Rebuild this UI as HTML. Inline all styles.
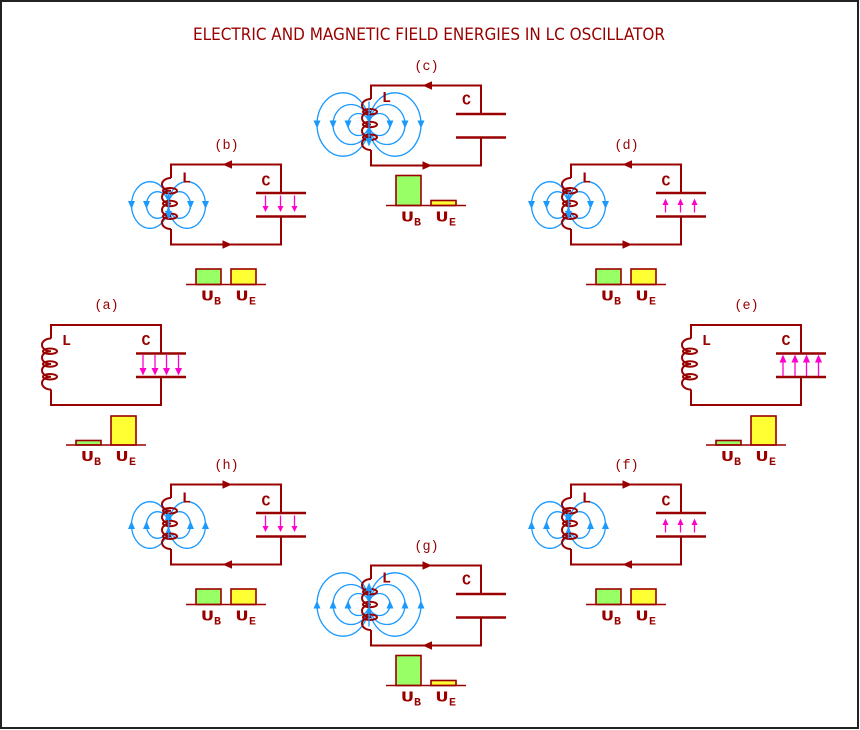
<!DOCTYPE html>
<html>
<head>
<meta charset="utf-8">
<style>
  html,body{margin:0;padding:0;background:#fff;}
  svg{display:block;}
  .lbl{font-family:"Liberation Mono",monospace;font-size:13.5px;fill:#990000;text-anchor:middle;}
  .lc{font-family:"Liberation Mono",monospace;font-weight:bold;font-size:15px;fill:#990000;}
  .u{font-family:"Liberation Mono",monospace;font-weight:bold;font-size:15px;fill:#990000;}
  .s{font-family:"Liberation Mono",monospace;font-weight:bold;font-size:11px;fill:#990000;}
  .title{font-family:"DejaVu Sans","Liberation Sans",sans-serif;font-size:16.5px;fill:#990000;}
</style>
</head>
<body>
<svg width="860" height="730" viewBox="0 0 860 730" xmlns="http://www.w3.org/2000/svg">
<defs>
  <g id="wire" fill="none" stroke="#990000">
    <path d="M0,13.5 V0 H110 V28.5 M110,52 V80 H0 V64.5" stroke-width="2"/>
    <path d="M85,28.5 H135 M85,52 H135" stroke-width="2.5"/>
  </g>
  <g id="coil" fill="none" stroke="#990000" stroke-width="2">
    <path d="M0,13.5 A9,6.375 0 0 0 0,26.25 A9,6.375 0 0 0 0,39 A9,6.375 0 0 0 0,51.75 A9,6.375 0 0 0 0,64.5"/>
    <ellipse cx="-1" cy="26.25" rx="7" ry="2.7"/>
    <ellipse cx="-1" cy="39" rx="7" ry="2.7"/>
    <ellipse cx="-1" cy="51.75" rx="7" ry="2.7"/>
  </g>
  <g id="ellB" fill="none" stroke="#1a99ff" stroke-width="1.3">
    <ellipse cx="-21" cy="40.5" rx="18.5" ry="23.3"/>
    <ellipse cx="-13.5" cy="40.5" rx="11" ry="13.3"/>
    <ellipse cx="16" cy="40.5" rx="18.5" ry="23.3"/>
    <ellipse cx="8.5" cy="40.5" rx="11" ry="13.3"/>
  </g>
  <g id="ellC" fill="none" stroke="#1a99ff" stroke-width="1.3">
    <ellipse cx="-28" cy="39" rx="26" ry="31.7"/>
    <ellipse cx="-20" cy="39" rx="18" ry="20"/>
    <ellipse cx="-12.5" cy="39" rx="10.5" ry="11"/>
    <ellipse cx="24" cy="39" rx="26" ry="31.7"/>
    <ellipse cx="16" cy="39" rx="18" ry="20"/>
    <ellipse cx="8.5" cy="39" rx="10.5" ry="11"/>
  </g>
  <g id="fBdown" fill="#1a99ff">
    <polygon points="-43,36.5 -36,36.5 -39.5,44.5"/>
    <polygon points="-28,36.5 -21,36.5 -24.5,44.5"/>
    <polygon points="16,36.5 23,36.5 19.5,44.5"/>
    <polygon points="31,36.5 38,36.5 34.5,44.5"/>
  </g>
  <g id="fBdownC">
    <line x1="-2.5" y1="27" x2="-2.5" y2="50" stroke="#1a99ff" stroke-width="1.3"/>
    <polygon points="-6,46.5 1,46.5 -2.5,55" fill="#1a99ff"/>
  </g>
  <g id="fBup" fill="#1a99ff">
    <polygon points="-43,44.5 -36,44.5 -39.5,36.5"/>
    <polygon points="-28,44.5 -21,44.5 -24.5,36.5"/>
    <polygon points="16,44.5 23,44.5 19.5,36.5"/>
    <polygon points="31,44.5 38,44.5 34.5,36.5"/>
  </g>
  <g id="fBupC">
    <line x1="-2.5" y1="31" x2="-2.5" y2="54" stroke="#1a99ff" stroke-width="1.3"/>
    <polygon points="-6,35.5 1,35.5 -2.5,27" fill="#1a99ff"/>
  </g>
  <g id="fCdown" fill="#1a99ff">
    <polygon points="-57.5,35 -50.5,35 -54,43"/>
    <polygon points="-41.5,35 -34.5,35 -38,43"/>
    <polygon points="-26.5,35 -19.5,35 -23,43"/>
    <polygon points="15.5,35 22.5,35 19,43"/>
    <polygon points="30.5,35 37.5,35 34,43"/>
    <polygon points="46.5,35 53.5,35 50,43"/>
  </g>
  <g id="fCdownC">
    <line x1="-2" y1="16" x2="-2" y2="56" stroke="#1a99ff" stroke-width="1.3"/>
    <polygon points="-5.5,52.5 1.5,52.5 -2,61" fill="#1a99ff"/>
  </g>
  <g id="fCup" fill="#1a99ff">
    <polygon points="-57.5,43 -50.5,43 -54,35"/>
    <polygon points="-41.5,43 -34.5,43 -38,35"/>
    <polygon points="-26.5,43 -19.5,43 -23,35"/>
    <polygon points="15.5,43 22.5,43 19,35"/>
    <polygon points="30.5,43 37.5,43 34,35"/>
    <polygon points="46.5,43 53.5,43 50,35"/>
  </g>
  <g id="fCupC">
    <line x1="-2" y1="22" x2="-2" y2="61" stroke="#1a99ff" stroke-width="1.3"/>
    <polygon points="-5.5,25.5 1.5,25.5 -2,17" fill="#1a99ff"/>
  </g>
  <g id="eAdown" stroke="#ff00cc" fill="#ff00cc" stroke-width="1.3">
    <line x1="92" y1="30" x2="92" y2="45"/><polygon stroke="none" points="88.5,43 95.5,43 92,50.5"/>
    <line x1="104" y1="30" x2="104" y2="45"/><polygon stroke="none" points="100.5,43 107.5,43 104,50.5"/>
    <line x1="115.5" y1="30" x2="115.5" y2="45"/><polygon stroke="none" points="112,43 119,43 115.5,50.5"/>
    <line x1="127.5" y1="30" x2="127.5" y2="45"/><polygon stroke="none" points="124,43 131,43 127.5,50.5"/>
  </g>
  <g id="eAup" stroke="#ff00cc" fill="#ff00cc" stroke-width="1.3">
    <line x1="92" y1="35" x2="92" y2="51"/><polygon stroke="none" points="88.5,37.5 95.5,37.5 92,29.5"/>
    <line x1="104" y1="35" x2="104" y2="51"/><polygon stroke="none" points="100.5,37.5 107.5,37.5 104,29.5"/>
    <line x1="115.5" y1="35" x2="115.5" y2="51"/><polygon stroke="none" points="112,37.5 119,37.5 115.5,29.5"/>
    <line x1="127.5" y1="35" x2="127.5" y2="51"/><polygon stroke="none" points="124,37.5 131,37.5 127.5,29.5"/>
  </g>
  <g id="eBdown" stroke="#ff00cc" fill="#ff00cc" stroke-width="1.3">
    <line x1="94.5" y1="31" x2="94.5" y2="43"/><polygon stroke="none" points="91.5,41.5 97.5,41.5 94.5,47.5"/>
    <line x1="109.5" y1="31" x2="109.5" y2="43"/><polygon stroke="none" points="106.5,41.5 112.5,41.5 109.5,47.5"/>
    <line x1="123.5" y1="31" x2="123.5" y2="43"/><polygon stroke="none" points="120.5,41.5 126.5,41.5 123.5,47.5"/>
  </g>
  <g id="eBup" stroke="#ff00cc" fill="#ff00cc" stroke-width="1.3">
    <line x1="94.5" y1="38" x2="94.5" y2="48"/><polygon stroke="none" points="91.5,40.5 97.5,40.5 94.5,34"/>
    <line x1="109.5" y1="38" x2="109.5" y2="48"/><polygon stroke="none" points="106.5,40.5 112.5,40.5 109.5,34"/>
    <line x1="123.5" y1="38" x2="123.5" y2="48"/><polygon stroke="none" points="120.5,40.5 126.5,40.5 123.5,34"/>
  </g>
  <g id="arrLR" fill="#990000">
    <polygon points="51.5,0 61,-4.2 61,4.2"/>
    <polygon points="61,80 51.5,75.8 51.5,84.2"/>
  </g>
  <g id="arrRL" fill="#990000">
    <polygon points="61,0 51.5,-4.2 51.5,4.2"/>
    <polygon points="51.5,80 61,75.8 61,84.2"/>
  </g>
  <path id="base" d="M15,120 H95" stroke="#990000" stroke-width="1.6" fill="none"/>
  <g id="barsA" stroke="#990000" stroke-width="1.6">
    <rect x="25" y="115.5" width="25" height="4.5" fill="#99ff66"/>
    <rect x="60" y="91" width="25" height="29" fill="#ffff33"/>
  </g>
  <g id="barsB" stroke="#990000" stroke-width="1.6">
    <rect x="25" y="104.5" width="25" height="15.5" fill="#99ff66"/>
    <rect x="60" y="104.5" width="25" height="15.5" fill="#ffff33"/>
  </g>
  <g id="barsC" stroke="#990000" stroke-width="1.6">
    <rect x="25" y="90" width="25" height="30" fill="#99ff66"/>
    <rect x="60" y="115" width="25" height="5" fill="#ffff33"/>
  </g>
</defs>

<rect x="1" y="1" width="857" height="727" fill="#fff" stroke="#222" stroke-width="2"/>

<text class="title" x="193" y="40" textLength="472" lengthAdjust="spacingAndGlyphs">ELECTRIC AND MAGNETIC FIELD ENERGIES IN LC OSCILLATOR</text>

<!-- (a) -->
<g transform="translate(51,325)">
  <use href="#wire"/><use href="#coil"/><use href="#eAdown"/>
  <use href="#barsA"/><use href="#base"/>
  <text class="lbl" x="55.5" y="-16">(a)</text>
  <text class="lc" x="11" y="20">L</text>
  <text class="lc" x="90.5" y="20">C</text>
  <text class="u" x="30" y="136" textLength="13" lengthAdjust="spacingAndGlyphs">U</text><text class="s" x="43" y="140" textLength="7" lengthAdjust="spacingAndGlyphs">B</text>
  <text class="u" x="64.5" y="136" textLength="13" lengthAdjust="spacingAndGlyphs">U</text><text class="s" x="78" y="140" textLength="7" lengthAdjust="spacingAndGlyphs">E</text>
</g>

<!-- (e) -->
<g transform="translate(691,325)">
  <use href="#wire"/><use href="#coil"/><use href="#eAup"/>
  <use href="#barsA"/><use href="#base"/>
  <text class="lbl" x="55.5" y="-16">(e)</text>
  <text class="lc" x="11" y="20">L</text>
  <text class="lc" x="90.5" y="20">C</text>
  <text class="u" x="30" y="136" textLength="13" lengthAdjust="spacingAndGlyphs">U</text><text class="s" x="43" y="140" textLength="7" lengthAdjust="spacingAndGlyphs">B</text>
  <text class="u" x="64.5" y="136" textLength="13" lengthAdjust="spacingAndGlyphs">U</text><text class="s" x="78" y="140" textLength="7" lengthAdjust="spacingAndGlyphs">E</text>
</g>

<!-- (b) -->
<g transform="translate(171,164.5)">
  <use href="#ellB"/><use href="#fBdown"/>
  <use href="#wire"/><use href="#coil"/><use href="#fBdownC"/><use href="#eBdown"/><use href="#arrLR"/>
  <use href="#barsB"/><use href="#base"/>
  <text class="lbl" x="55.5" y="-15.5">(b)</text>
  <text class="lc" x="11" y="18">L</text>
  <text class="lc" x="90.5" y="21">C</text>
  <text class="u" x="30" y="136" textLength="13" lengthAdjust="spacingAndGlyphs">U</text><text class="s" x="43" y="140" textLength="7" lengthAdjust="spacingAndGlyphs">B</text>
  <text class="u" x="64.5" y="136" textLength="13" lengthAdjust="spacingAndGlyphs">U</text><text class="s" x="78" y="140" textLength="7" lengthAdjust="spacingAndGlyphs">E</text>
</g>

<!-- (d) -->
<g transform="translate(571,164.5)">
  <use href="#ellB"/><use href="#fBdown"/>
  <use href="#wire"/><use href="#coil"/><use href="#fBdownC"/><use href="#eBup"/><use href="#arrLR"/>
  <use href="#barsB"/><use href="#base"/>
  <text class="lbl" x="55.5" y="-15.5">(d)</text>
  <text class="lc" x="11" y="18">L</text>
  <text class="lc" x="90.5" y="21">C</text>
  <text class="u" x="30" y="136" textLength="13" lengthAdjust="spacingAndGlyphs">U</text><text class="s" x="43" y="140" textLength="7" lengthAdjust="spacingAndGlyphs">B</text>
  <text class="u" x="64.5" y="136" textLength="13" lengthAdjust="spacingAndGlyphs">U</text><text class="s" x="78" y="140" textLength="7" lengthAdjust="spacingAndGlyphs">E</text>
</g>

<!-- (h) -->
<g transform="translate(171,484.5)">
  <use href="#ellB"/><use href="#fBup"/>
  <use href="#wire"/><use href="#coil"/><use href="#fBupC"/><use href="#eBdown"/><use href="#arrRL"/>
  <use href="#barsB"/><use href="#base"/>
  <text class="lbl" x="55.5" y="-15.5">(h)</text>
  <text class="lc" x="11" y="18">L</text>
  <text class="lc" x="90.5" y="21">C</text>
  <text class="u" x="30" y="136" textLength="13" lengthAdjust="spacingAndGlyphs">U</text><text class="s" x="43" y="140" textLength="7" lengthAdjust="spacingAndGlyphs">B</text>
  <text class="u" x="64.5" y="136" textLength="13" lengthAdjust="spacingAndGlyphs">U</text><text class="s" x="78" y="140" textLength="7" lengthAdjust="spacingAndGlyphs">E</text>
</g>

<!-- (f) -->
<g transform="translate(571,484.5)">
  <use href="#ellB"/><use href="#fBup"/>
  <use href="#wire"/><use href="#coil"/><use href="#fBupC"/><use href="#eBup"/><use href="#arrRL"/>
  <use href="#barsB"/><use href="#base"/>
  <text class="lbl" x="55.5" y="-15.5">(f)</text>
  <text class="lc" x="11" y="18">L</text>
  <text class="lc" x="90.5" y="21">C</text>
  <text class="u" x="30" y="136" textLength="13" lengthAdjust="spacingAndGlyphs">U</text><text class="s" x="43" y="140" textLength="7" lengthAdjust="spacingAndGlyphs">B</text>
  <text class="u" x="64.5" y="136" textLength="13" lengthAdjust="spacingAndGlyphs">U</text><text class="s" x="78" y="140" textLength="7" lengthAdjust="spacingAndGlyphs">E</text>
</g>

<!-- (c) -->
<g transform="translate(371,85.5)">
  <use href="#ellC"/><use href="#fCdown"/>
  <use href="#wire"/><use href="#coil"/><use href="#fCdownC"/><use href="#arrLR"/>
  <use href="#barsC"/><use href="#base"/>
  <text class="lbl" x="55.5" y="-15.5">(c)</text>
  <text class="lc" x="11" y="16.5">L</text>
  <text class="lc" x="91" y="19">C</text>
  <text class="u" x="30" y="136" textLength="13" lengthAdjust="spacingAndGlyphs">U</text><text class="s" x="43" y="140" textLength="7" lengthAdjust="spacingAndGlyphs">B</text>
  <text class="u" x="64.5" y="136" textLength="13" lengthAdjust="spacingAndGlyphs">U</text><text class="s" x="78" y="140" textLength="7" lengthAdjust="spacingAndGlyphs">E</text>
</g>

<!-- (g) -->
<g transform="translate(371,565.5)">
  <use href="#ellC"/><use href="#fCup"/>
  <use href="#wire"/><use href="#coil"/><use href="#fCupC"/><use href="#arrRL"/>
  <use href="#barsC"/><use href="#base"/>
  <text class="lbl" x="55.5" y="-15.5">(g)</text>
  <text class="lc" x="11" y="17">L</text>
  <text class="lc" x="91" y="19">C</text>
  <text class="u" x="30" y="136" textLength="13" lengthAdjust="spacingAndGlyphs">U</text><text class="s" x="43" y="140" textLength="7" lengthAdjust="spacingAndGlyphs">B</text>
  <text class="u" x="64.5" y="136" textLength="13" lengthAdjust="spacingAndGlyphs">U</text><text class="s" x="78" y="140" textLength="7" lengthAdjust="spacingAndGlyphs">E</text>
</g>
</svg>
</body>
</html>
